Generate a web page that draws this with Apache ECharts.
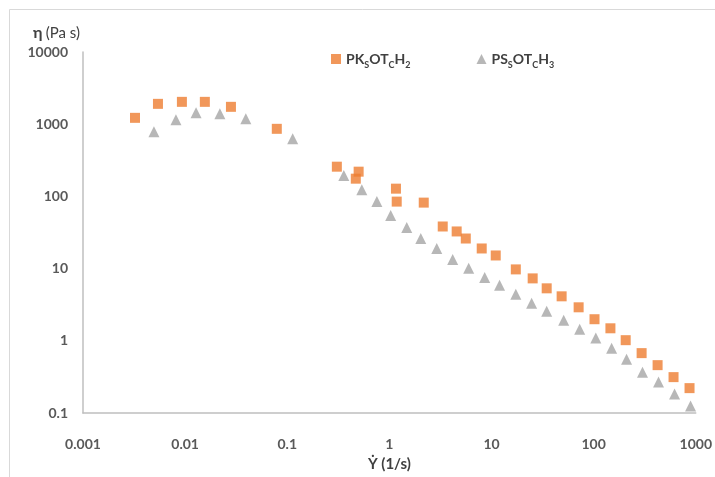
<!DOCTYPE html>
<html>
<head>
<meta charset="utf-8">
<title>Viscosity vs shear rate</title>
<script src="https://cdn.jsdelivr.net/npm/echarts@6/dist/echarts.min.js"></script>
<style>
  html, body { margin: 0; padding: 0; background: #fff; }
  #chart { width: 715px; height: 477px; }
</style>
</head>
<body>
<div id="chart"></div>
<script>
// Shear rate (1/s) and viscosity (Pa s).
const pkShear = [0.00323, 0.00542, 0.0093, 0.0156, 0.0281, 0.079, 0.306, 0.469, 0.5,
  1.16, 1.18, 2.17, 3.33, 4.56, 5.6, 8.02, 11.0, 17.3, 25.3, 34.7, 48.6, 71.3,
  102, 146, 206, 295, 423, 606, 869];
const pkVisc = [1225, 1914, 2040, 2040, 1740, 863, 258, 176, 220,
  128, 84.7, 82, 38.3, 32.7, 26.1, 19.0, 15.2, 9.75, 7.32, 5.33, 4.13, 2.91,
  1.99, 1.49, 1.02, 0.675, 0.46, 0.314, 0.221];

const psShear = [0.00495, 0.00813, 0.0128, 0.0219, 0.0393, 0.113, 0.358, 0.537, 0.754,
  1.03, 1.48, 2.03, 2.91, 4.17, 5.98, 8.58, 12.0, 17.3, 24.7, 34.7, 50.9, 73,
  105, 150, 210, 301, 432, 620, 890];
const psVisc = [785, 1150, 1437, 1393, 1188, 629, 194, 124, 84.7,
  54.3, 37, 26.1, 19.0, 13.4, 10.1, 7.55, 5.86, 4.4, 3.31, 2.56, 1.93, 1.45,
  1.09, 0.79, 0.557, 0.368, 0.268, 0.183, 0.125];

const seriesNames = ["PK_SOT_CH_2", "PS_SOT_CH_3"];
// legend labels with real subscripts (rich text)
const legendRich = {
  "PK_SOT_CH_2": "{b|PK}{s|S}{b|OT}{s|C}{b|H}{s|2}",
  "PS_SOT_CH_3": "{b|PS}{s|S}{b|OT}{s|C}{b|H}{s|3}",
};

const FONT = "Lato, 'Open Sans', sans-serif";
const LABEL = { color: "#595959", fontFamily: FONT, fontWeight: "bold", fontSize: 14 };

const zip = (xs, ys) => xs.map((x, i) => [x, ys[i]]);
const fmtTick = (v) => String(Number(v.toPrecision(6)));

const chart = echarts.init(document.getElementById("chart"), null, { renderer: "canvas" });

chart.setOption({
  animation: false,
  backgroundColor: "#fff",
  graphic: [{
    type: "rect",
    shape: { x: 9.5, y: 9.5, width: 760, height: 520 },
    style: { fill: "none", stroke: "#d9d9d9", lineWidth: 1 },
    silent: true,
  }],
  grid: { left: 83, right: 19, top: 52, bottom: 63 },
  legend: {
    data: seriesNames,
    left: 326,
    top: 47,
    itemGap: 66,
    itemWidth: 10,
    itemHeight: 10,
    formatter: (n) => legendRich[n],
    textStyle: {
      color: "#404040",
      fontFamily: FONT,
      rich: {
        b: { fontSize: 14, fontWeight: "bold", color: "#404040", lineHeight: 21, verticalAlign: "middle", fontFamily: FONT },
        s: { fontSize: 9, fontWeight: "bold", color: "#404040", lineHeight: 10, verticalAlign: "bottom", fontFamily: FONT },
      },
    },
  },
  xAxis: {
    type: "log",
    logBase: 10,
    min: 0.001,
    max: 1000,
    name: "Ẏ (1/s)",
    nameLocation: "middle",
    nameGap: 44,
    nameTextStyle: { color: "#404040", fontFamily: FONT, fontWeight: "bold", fontSize: 15 },
    axisLine: { show: true, lineStyle: { color: "#bfbfbf", width: 1.5 } },
    axisTick: { show: false },
    splitLine: { show: false },
    axisLabel: { ...LABEL, margin: 24, formatter: fmtTick },
  },
  yAxis: {
    type: "log",
    logBase: 10,
    min: 0.1,
    max: 10000,
    name: "{e|η} {r|(Pa s)}",
    nameLocation: "end",
    nameGap: 11,
    nameTextStyle: {
      align: "right",
      padding: [0, 3, 0, 0],
      rich: {
        e: { fontSize: 16, fontWeight: "bold", color: "#404040", fontFamily: FONT },
        r: { fontSize: 15, color: "#404040", fontFamily: FONT },
      },
    },
    axisLine: { show: true, lineStyle: { color: "#bfbfbf", width: 1.5 } },
    axisTick: { show: false },
    splitLine: { show: false },
    axisLabel: { ...LABEL, margin: 15, formatter: fmtTick },
  },
  series: [
    {
      name: seriesNames[0],
      type: "scatter",
      symbol: "rect",
      symbolSize: 10,
      itemStyle: { color: "#ED7D31" },
      data: zip(pkShear, pkVisc),
    },
    {
      name: seriesNames[1],
      type: "scatter",
      symbol: "triangle",
      symbolSize: 11,
      itemStyle: { color: "#A5A5A5" },
      data: zip(psShear, psVisc),
    },
  ],
});
</script>
</body>
</html>
